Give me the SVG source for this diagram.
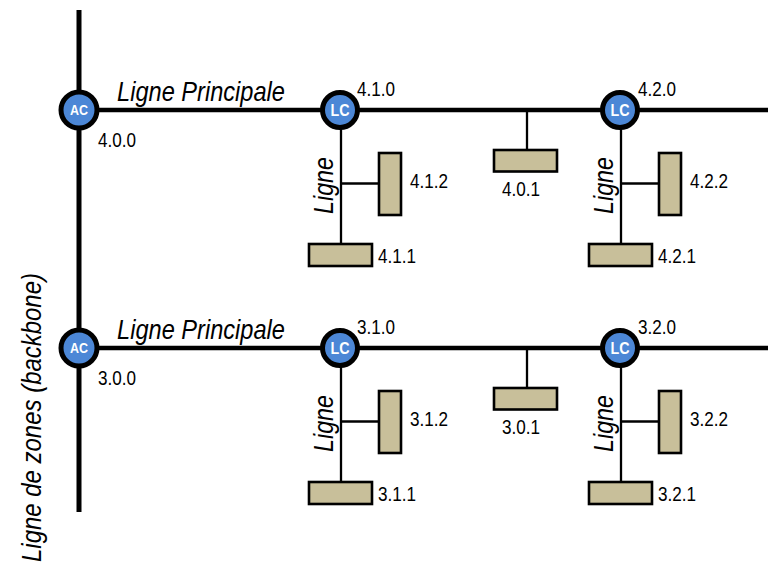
<svg xmlns="http://www.w3.org/2000/svg" width="768" height="564" viewBox="0 0 768 564">
<style>
.bb{stroke:#000;stroke-width:5;fill:none}
.main{stroke:#000;stroke-width:4.5;fill:none}
.br{stroke:#000;stroke-width:2.3;fill:none}
.cpl{fill:#4C87D6;stroke:#000;stroke-width:5}
.dev{fill:#C8BF9A;stroke:#000;stroke-width:2.6}
.ct{font-family:"Liberation Sans",Arial,sans-serif;font-weight:bold;fill:#fff;text-anchor:middle}
.num{font-family:"Liberation Sans",Arial,sans-serif;font-size:20px;fill:#000}
.lab{font-family:"Liberation Sans",Arial,sans-serif;font-style:italic;font-size:28px;fill:#000}
</style>
<rect width="768" height="564" fill="#fff"/>
<g id="connectors">
  <line class="bb" x1="79" y1="10" x2="79" y2="512"/>
  <line class="main" x1="79" y1="110" x2="768" y2="110"/>
  <line class="main" x1="79" y1="348" x2="768" y2="348"/>
  <line class="br" x1="341" y1="110" x2="341" y2="244"/>
  <line class="br" x1="341" y1="183.5" x2="379" y2="183.5"/>
  <line class="br" x1="527" y1="110" x2="527" y2="150"/>
  <line class="br" x1="621" y1="110" x2="621" y2="244"/>
  <line class="br" x1="621" y1="183.5" x2="659" y2="183.5"/>
  <line class="br" x1="341" y1="348" x2="341" y2="482"/>
  <line class="br" x1="341" y1="421.5" x2="379" y2="421.5"/>
  <line class="br" x1="527" y1="348" x2="527" y2="388"/>
  <line class="br" x1="621" y1="348" x2="621" y2="482"/>
  <line class="br" x1="621" y1="421.5" x2="659" y2="421.5"/>
</g>
<g id="labels">
  <text class="lab" transform="translate(41,417.5) rotate(-90)" text-anchor="middle" textLength="289" lengthAdjust="spacingAndGlyphs">Ligne de zones (backbone)</text>
  <text class="lab" x="117" y="101" textLength="168" lengthAdjust="spacingAndGlyphs">Ligne Principale</text>
  <text class="lab" x="117" y="339" textLength="168" lengthAdjust="spacingAndGlyphs">Ligne Principale</text>
  <text class="lab" transform="translate(333,185.5) rotate(-90)" text-anchor="middle" textLength="57" lengthAdjust="spacingAndGlyphs">Ligne</text>
  <text class="lab" transform="translate(613,185.5) rotate(-90)" text-anchor="middle" textLength="57" lengthAdjust="spacingAndGlyphs">Ligne</text>
  <text class="lab" transform="translate(333,423.5) rotate(-90)" text-anchor="middle" textLength="57" lengthAdjust="spacingAndGlyphs">Ligne</text>
  <text class="lab" transform="translate(613,423.5) rotate(-90)" text-anchor="middle" textLength="57" lengthAdjust="spacingAndGlyphs">Ligne</text>
</g>
<g id="ac-4">
  <circle class="cpl" cx="79" cy="110" r="18"/>
  <text class="ct" x="79" y="115" font-size="14" textLength="18" lengthAdjust="spacingAndGlyphs">AC</text>
  <text class="num" x="98" y="147" textLength="38" lengthAdjust="spacingAndGlyphs">4.0.0</text>
</g>
<g id="ac-3">
  <circle class="cpl" cx="79" cy="348" r="18"/>
  <text class="ct" x="79" y="353" font-size="14" textLength="18" lengthAdjust="spacingAndGlyphs">AC</text>
  <text class="num" x="98" y="385" textLength="38" lengthAdjust="spacingAndGlyphs">3.0.0</text>
</g>
<g id="lc-4-1">
  <circle class="cpl" cx="340" cy="110" r="17.5"/>
  <text class="ct" x="340" y="116" font-size="16" textLength="19" lengthAdjust="spacingAndGlyphs">LC</text>
  <text class="num" x="357" y="96" textLength="38" lengthAdjust="spacingAndGlyphs">4.1.0</text>
</g>
<g id="lc-4-2">
  <circle class="cpl" cx="620" cy="110" r="17.5"/>
  <text class="ct" x="620" y="116" font-size="16" textLength="19" lengthAdjust="spacingAndGlyphs">LC</text>
  <text class="num" x="638" y="96" textLength="38" lengthAdjust="spacingAndGlyphs">4.2.0</text>
</g>
<g id="lc-3-1">
  <circle class="cpl" cx="340" cy="348" r="17.5"/>
  <text class="ct" x="340" y="354" font-size="16" textLength="19" lengthAdjust="spacingAndGlyphs">LC</text>
  <text class="num" x="357" y="334" textLength="38" lengthAdjust="spacingAndGlyphs">3.1.0</text>
</g>
<g id="lc-3-2">
  <circle class="cpl" cx="620" cy="348" r="17.5"/>
  <text class="ct" x="620" y="354" font-size="16" textLength="19" lengthAdjust="spacingAndGlyphs">LC</text>
  <text class="num" x="638" y="334" textLength="38" lengthAdjust="spacingAndGlyphs">3.2.0</text>
</g>
<g id="dev-4-1-2">
  <rect class="dev" x="379" y="153" width="22" height="62"/>
  <text class="num" x="410" y="188" textLength="38" lengthAdjust="spacingAndGlyphs">4.1.2</text>
</g>
<g id="dev-4-1-1">
  <rect class="dev" x="309" y="244" width="63" height="22"/>
  <text class="num" x="378" y="263" textLength="38" lengthAdjust="spacingAndGlyphs">4.1.1</text>
</g>
<g id="dev-4-0-1">
  <rect class="dev" x="494" y="150" width="63" height="21.5"/>
  <text class="num" x="502" y="196" textLength="38" lengthAdjust="spacingAndGlyphs">4.0.1</text>
</g>
<g id="dev-4-2-2">
  <rect class="dev" x="659" y="153" width="22" height="62"/>
  <text class="num" x="690" y="188" textLength="38" lengthAdjust="spacingAndGlyphs">4.2.2</text>
</g>
<g id="dev-4-2-1">
  <rect class="dev" x="589" y="244" width="63" height="22"/>
  <text class="num" x="658" y="263" textLength="38" lengthAdjust="spacingAndGlyphs">4.2.1</text>
</g>
<g id="dev-3-1-2">
  <rect class="dev" x="379" y="391" width="22" height="62"/>
  <text class="num" x="410" y="426" textLength="38" lengthAdjust="spacingAndGlyphs">3.1.2</text>
</g>
<g id="dev-3-1-1">
  <rect class="dev" x="309" y="482" width="63" height="22"/>
  <text class="num" x="378" y="501" textLength="38" lengthAdjust="spacingAndGlyphs">3.1.1</text>
</g>
<g id="dev-3-0-1">
  <rect class="dev" x="494" y="388" width="63" height="21.5"/>
  <text class="num" x="502" y="434" textLength="38" lengthAdjust="spacingAndGlyphs">3.0.1</text>
</g>
<g id="dev-3-2-2">
  <rect class="dev" x="659" y="391" width="22" height="62"/>
  <text class="num" x="690" y="426" textLength="38" lengthAdjust="spacingAndGlyphs">3.2.2</text>
</g>
<g id="dev-3-2-1">
  <rect class="dev" x="589" y="482" width="63" height="22"/>
  <text class="num" x="658" y="501" textLength="38" lengthAdjust="spacingAndGlyphs">3.2.1</text>
</g>
</svg>
